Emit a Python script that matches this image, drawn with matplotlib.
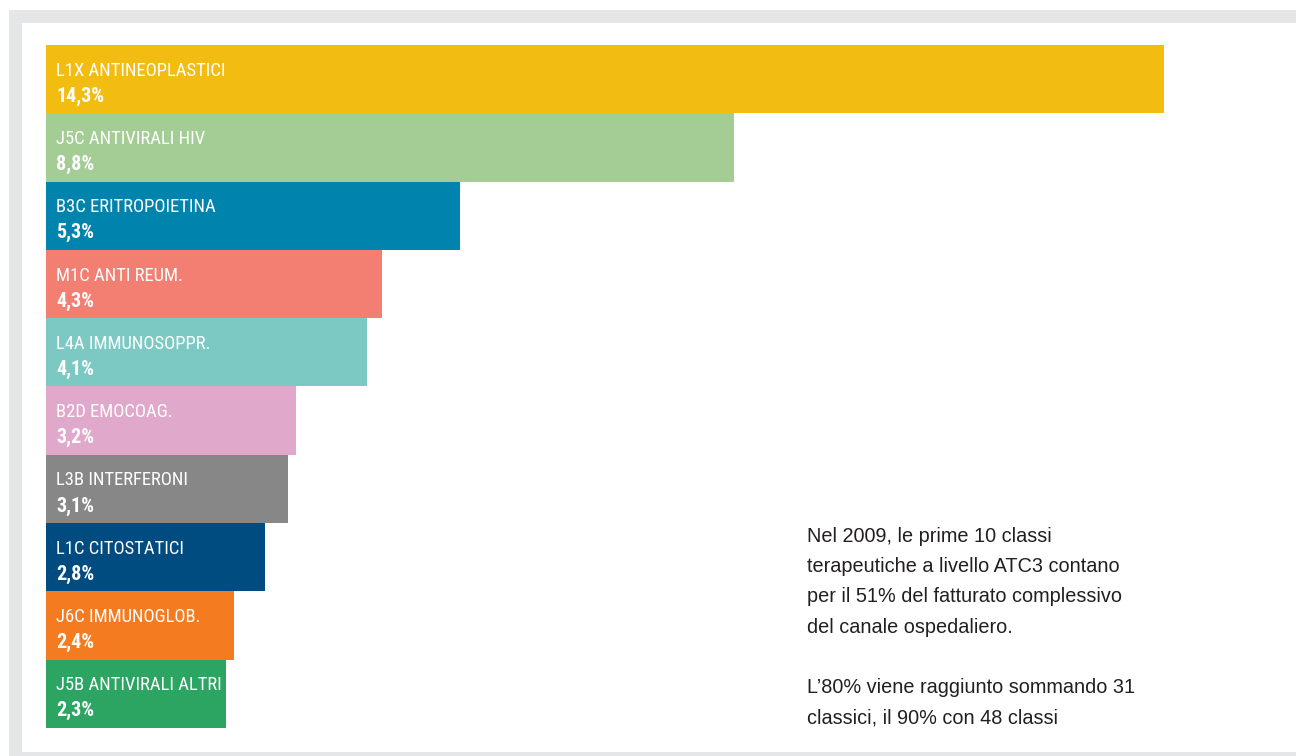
import matplotlib.pyplot as plt
from matplotlib.patches import Rectangle

# prime 10 classi ATC3, canale ospedaliero 2009
classi = ['L1X ANTINEOPLASTICI', 'J5C ANTIVIRALI HIV', 'B3C ERITROPOIETINA',
          'M1C ANTI REUM.', 'L4A IMMUNOSOPPR.', 'B2D EMOCOAG.', 'L3B INTERFERONI',
          'L1C CITOSTATICI', 'J6C IMMUNOGLOB.', 'J5B ANTIVIRALI ALTRI']
quote = [14.3, 8.8, 5.3, 4.3, 4.1, 3.2, 3.1, 2.8, 2.4, 2.3]
colori = ['#F3BC10', '#A3CD94', '#0083AC', '#F37E72', '#7CC9C4',
          '#E0A8CB', '#878787', '#004C80', '#F47B20', '#2CA562']
nota = ('Nel 2009, le prime 10 classi\nterapeutiche a livello ATC3 contano\n'
        'per il 51% del fatturato complessivo\ndel canale ospedaliero.\n\n'
        'L\u201980% viene raggiunto sommando 31\nclassici, il 90% con 48 classi')

W, H = 1296, 756
fig = plt.figure(figsize=(W/100, H/100), dpi=100)

# cornice grigia
bg = fig.add_axes([0, 0, 1, 1])
bg.set_xlim(0, W)
bg.set_ylim(H, 0)
bg.axis('off')
bg.add_patch(Rectangle((9, 10), W, H, color='#E5E6E8', lw=0))
bg.add_patch(Rectangle((22, 23), W, 752-23, color='white', lw=0))

ax = fig.add_axes([46/W, 1-728/H, (1164-46)/W, (728-45)/H])
pos = range(len(quote))
ax.barh(pos, quote, height=1.0, color=colori, left=0)
ax.set_xlim(0, max(quote))
ax.set_ylim(len(quote)-0.5, -0.5)
ax.axis('off')

font_barre = ['Roboto Condensed', 'DejaVu Sans']
for i, (c, q) in enumerate(zip(classi, quote)):
    ax.annotate(c, (0, i), xytext=(10, 8.5), textcoords='offset pixels',
                va='center', ha='left', color='white', fontsize=13.4,
                family=font_barre)
    ax.annotate(('%.1f%%' % q).replace('.', ','), (0, i), xytext=(10, -17),
                textcoords='offset pixels', va='center', ha='left',
                color='white', fontsize=14.5, fontweight='bold',
                family=font_barre)

fig.text(807/W, 1-527/H, nota, ha='left', va='top', fontsize=14.3,
         color='#231F20', linespacing=1.75,
         family=['Liberation Sans', 'DejaVu Sans'])

fig.savefig('out.png', dpi=100)
